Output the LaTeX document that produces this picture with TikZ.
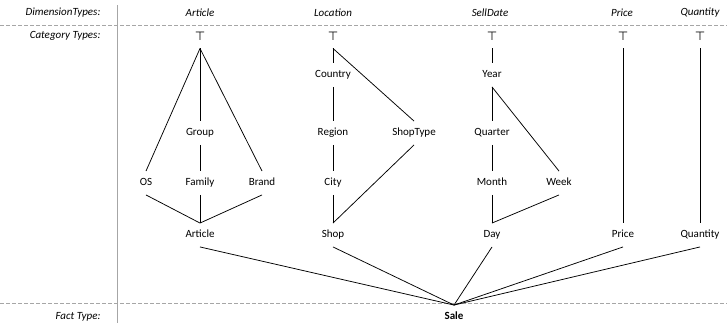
\documentclass[tikz,border=0pt]{standalone}
\usepackage{fontspec}
\setmainfont{Carlito}
\newfontfamily\symfont{DejaVu Sans}
\usetikzlibrary{positioning}

\begin{document}
\begin{tikzpicture}[x=1pt, y=-1pt,
  every node/.style={font=\fontsize{11}{13}\selectfont},
  cat/.style={inner xsep=2pt, inner ysep=7pt, text height=7.5pt, text depth=2pt},
  topcat/.style={cat, font=\fontsize{12}{14}\selectfont\symfont, text height=8.5pt, inner ysep=6pt},
  head/.style={font=\fontsize{11}{13}\selectfont\itshape},
  rowlabel/.style={anchor=east, font=\fontsize{11}{13}\selectfont\itshape},
  sep/.style={gray!70, dash pattern=on 3.5pt off 2.5pt, line width=0.6pt},
  edge/.style={line width=0.75pt}]
  \useasboundingbox (0,0) rectangle (727,327);

  % frame
  \draw[gray!70, line width=0.7pt] (117,5) -- (117,323);
  \draw[sep] (0,25) -- (727,25);
  \draw[sep] (0,303) -- (727,303);

  % row labels
  \node[rowlabel] (lbldim) at (104,13) {DimensionTypes:};
  \node[rowlabel] (lblcat) at (104,36) {Category Types:};
  \node[rowlabel] (lblfact) at (104,317) {Fact Type:};

  % dimension types
  \node[head] (hArticle) at (200,13) {Article};
  \node[head] (hLocation) at (333,13) {Location};
  \node[head] (hSellDate) at (490,13) {SellDate};
  \node[head] (hPrice) at (622,13) {Price};
  \node[head] (hQuantity) at (700,13) {Quantity};

  % Article
  \node[topcat] (topA) at (200,37) {⊤};
  \node[cat] (group) at (200,133) {Group};
  \node[cat] (os) at (146,183) {OS};
  \node[cat] (family) at (200,183) {Family};
  \node[cat] (brand) at (262,183) {Brand};
  \node[cat] (article) at (200,235) {Article};
  \draw[edge] (topA.south) -- (os.north);
  \draw[edge] (topA.south) -- (group.north);
  \draw[edge] (topA.south) -- (brand.north);
  \draw[edge] (group.south) -- (family.north);
  \draw[edge] (os.south) -- (article.north);
  \draw[edge] (family.south) -- (article.north);
  \draw[edge] (brand.south) -- (article.north);

  % Location
  \node[topcat] (topL) at (333,37) {⊤};
  \node[cat] (country) at (333,75) {Country};
  \node[cat] (region) at (333,133) {Region};
  \node[cat] (shoptype) at (414,133) {ShopType};
  \node[cat] (city) at (333,183) {City};
  \node[cat] (shop) at (333,235) {Shop};
  \draw[edge] (topL.south) -- (country.north);
  \draw[edge] (topL.south) -- (shoptype.north);
  \draw[edge] (country.south) -- (region.north);
  \draw[edge] (region.south) -- (city.north);
  \draw[edge] (city.south) -- (shop.north);
  \draw[edge] (shoptype.south) -- (shop.north);

  % SellDate
  \node[topcat] (topS) at (492,37) {⊤};
  \node[cat] (year) at (492,75) {Year};
  \node[cat] (quarter) at (492,133) {Quarter};
  \node[cat] (month) at (492,183) {Month};
  \node[cat] (week) at (559,183) {Week};
  \node[cat] (day) at (492,235) {Day};
  \draw[edge] (topS.south) -- (year.north);
  \draw[edge] (year.south) -- (quarter.north);
  \draw[edge] (year.south) -- (week.north);
  \draw[edge] (quarter.south) -- (month.north);
  \draw[edge] (month.south) -- (day.north);
  \draw[edge] (week.south) -- (day.north);

  % Price and Quantity
  \node[topcat] (topP) at (623,37) {⊤};
  \node[cat] (price) at (623,235) {Price};
  \node[topcat] (topQ) at (700,37) {⊤};
  \node[cat] (quantity) at (700,235) {Quantity};
  \draw[edge] (topP.south) -- (price.north);
  \draw[edge] (topQ.south) -- (quantity.north);

  % fact type
  \node[cat, font=\fontsize{11}{13}\selectfont\bfseries] (sale) at (454,317) {Sale};
  \draw[edge] (article.south) -- (sale.north);
  \draw[edge] (shop.south) -- (sale.north);
  \draw[edge] (day.south) -- (sale.north);
  \draw[edge] (price.south) -- (sale.north);
  \draw[edge] (quantity.south) -- (sale.north);
\end{tikzpicture}
\end{document}
